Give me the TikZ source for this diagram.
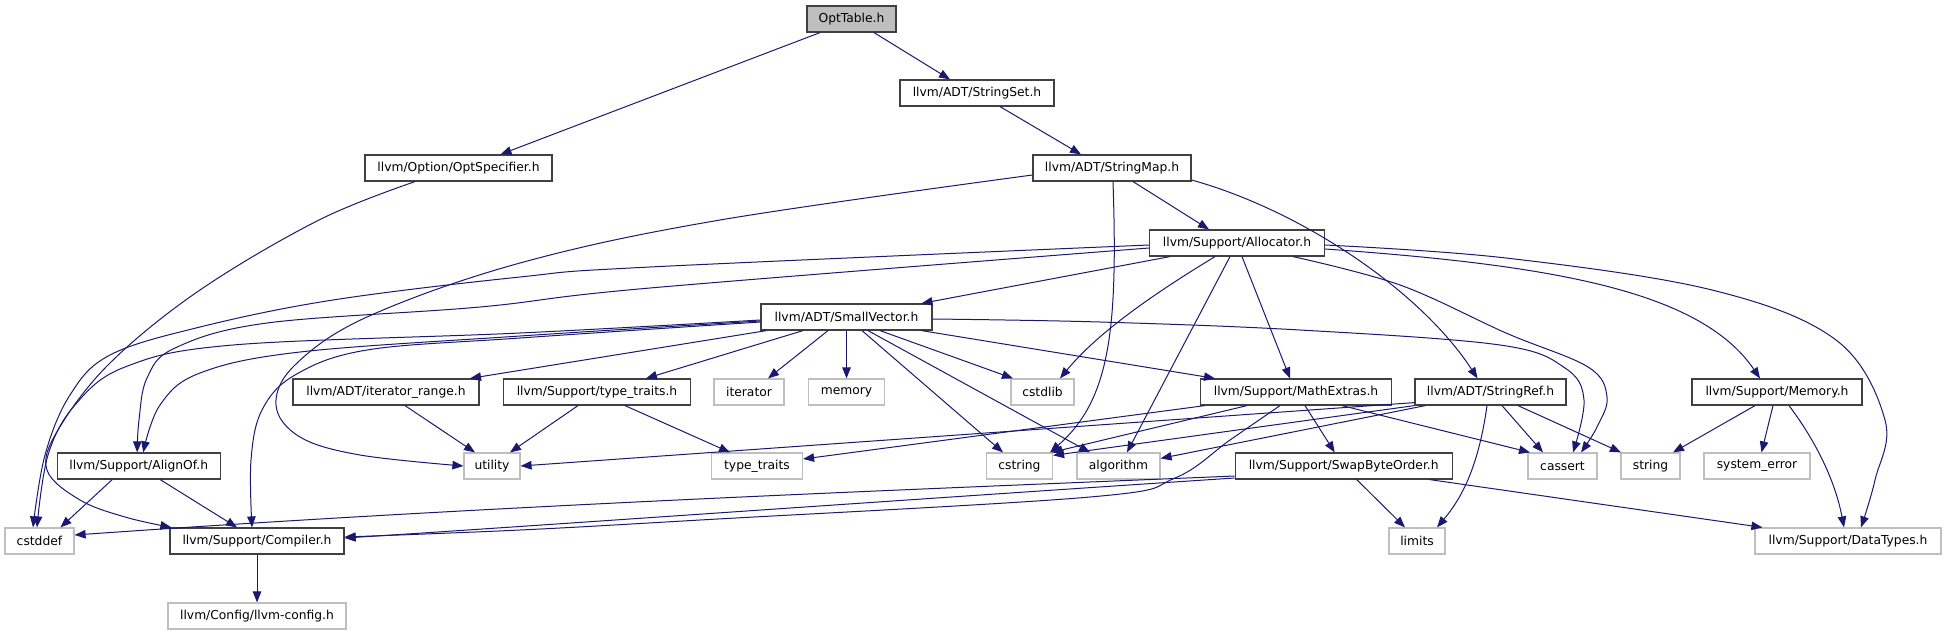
\documentclass[tikz,border=0pt]{standalone}
\usepackage{fontspec}
\setmainfont{DejaVu Sans}
\usetikzlibrary{arrows.meta}
\definecolor{edgec}{HTML}{191970}
\definecolor{lgray}{HTML}{BFBFBF}
\definecolor{bord}{HTML}{404040}
\tikzset{
  hdr/.style={draw=bord, line width=1.2pt, fill=white, minimum height=26pt, inner sep=0pt,
    font=\fontsize{12.3}{14}\selectfont},
  sys/.style={hdr, draw=lgray},
  edge/.style={draw=edgec, line width=1pt, -{Triangle[length=11pt,width=8.5pt]}},
  sm/.style={smooth, tension=0.6}
}
\begin{document}
\begin{tikzpicture}[x=1pt,y=-1pt]
\useasboundingbox (0,0) rectangle (1946,635);
% nodes
\node[hdr, fill=lgray, minimum width=89pt] (opttable) at (851.5,19) {OptTable.h};
\node[hdr, minimum width=187pt] (optspec) at (458.5,168) {llvm/Option/OptSpecifier.h};
\node[hdr, minimum width=154pt] (stringset) at (977,93) {llvm/ADT/StringSet.h};
\node[hdr, minimum width=158pt] (stringmap) at (1112,168) {llvm/ADT/StringMap.h};
\node[hdr, minimum width=175pt] (allocator) at (1237,243) {llvm/Support/Allocator.h};
\node[hdr, minimum width=171pt] (sv) at (846.5,317) {llvm/ADT/SmallVector.h};
\node[hdr, minimum width=186pt] (iterrange) at (386,392) {llvm/ADT/iterator\_range.h};
\node[hdr, minimum width=187pt] (ttsup) at (597,392) {llvm/Support/type\_traits.h};
\node[sys, minimum width=70pt] (iterator) at (749,392) {iterator};
\node[sys, minimum width=76pt] (memory) at (846.5,392) {memory};
\node[sys, minimum width=63pt] (cstdlib) at (1042.5,392) {cstdlib};
\node[hdr, minimum width=191pt] (mathx) at (1296,392) {llvm/Support/MathExtras.h};
\node[hdr, minimum width=151pt] (stringref) at (1490.5,392) {llvm/ADT/StringRef.h};
\node[hdr, minimum width=170pt] (memoryh) at (1777,392) {llvm/Support/Memory.h};
\node[hdr, minimum width=163pt] (alignof) at (138.7,466) {llvm/Support/AlignOf.h};
\node[sys, minimum width=56pt] (utility) at (492,466) {utility};
\node[sys, minimum width=91pt] (tt) at (757,466) {type\_traits};
\node[sys, minimum width=66pt] (cstring) at (1019.5,466) {cstring};
\node[sys, minimum width=83pt] (algorithm) at (1118.5,466) {algorithm};
\node[hdr, minimum width=217pt] (swapbyte) at (1343.7,466) {llvm/Support/SwapByteOrder.h};
\node[sys, minimum width=69pt] (cassert) at (1562.5,466) {cassert};
\node[sys, minimum width=59pt] (string) at (1650.5,466) {string};
\node[sys, minimum width=106pt] (syserror) at (1757,466) {system\_error};
\node[sys, minimum width=69pt] (cstddef) at (39.5,541) {cstddef};
\node[hdr, minimum width=174pt] (compiler) at (257,541) {llvm/Support/Compiler.h};
\node[sys, minimum width=56pt] (limits) at (1417,541) {limits};
\node[sys, minimum width=186pt] (datatypes) at (1848,541) {llvm/Support/DataTypes.h};
\node[sys, minimum width=178pt] (llvmconfig) at (257,616) {llvm/Config/llvm-config.h};
% edges
\draw[edge] ([xshift=-31.5pt]opttable.south) -- ([xshift=42pt]optspec.north);
\draw[edge] ([xshift=22.5pt]opttable.south) -- ([xshift=-27pt]stringset.north);
\draw[edge] ([xshift=23pt]stringset.south) -- ([xshift=-31pt]stringmap.north);
\draw[edge] ([xshift=21pt]stringmap.south) -- ([xshift=-28pt]allocator.north);
\draw[edge] ([xshift=1pt]stringmap.south) .. controls (1118,330) and (1110,400) .. ([xshift=30.5pt]cstring.north);
\draw[edge] plot[sm] coordinates {([yshift=-7pt]stringmap.west) (720,220) (520,263) (367,317) (295,365) (276,405) (300,437) (360,455) (utility.west)};
\draw[edge] ([yshift=-12pt]stringmap.east) .. controls (1300,210) and (1420,290) .. ([xshift=-13pt]stringref.north);
% allocator
\draw[edge] ([xshift=-67pt]allocator.south) -- ([xshift=75pt]sv.north);
\draw[edge] ([xshift=-22pt]allocator.south) .. controls (1160,290) and (1100,330) .. ([xshift=17.5pt]cstdlib.north);
\draw[edge] ([xshift=-7pt]allocator.south) -- ([xshift=8.5pt]algorithm.north);
\draw[edge] ([xshift=5pt]allocator.south) -- ([xshift=-6pt]mathx.north);
\draw[edge] plot[sm] coordinates {([xshift=56pt]allocator.south) (1400,285) (1506,333) (1588,367) (1607,397) (1597,427) ([xshift=18.5pt]cassert.north)};
\draw[edge] ([yshift=-6pt]allocator.east) .. controls (1550,265) and (1700,290) .. ([xshift=-17pt]memoryh.north);
\draw[edge] plot[sm] coordinates {([yshift=-2pt]allocator.east) (1506,258) (1712,290) (1836,340) (1885,420) (1875,480) ([xshift=13pt]datatypes.north)};
\draw[edge] plot[sm] coordinates {([yshift=-2pt]allocator.west) (650,267) (520,277) (333,300) (200,327) (110,355) (70,395) (45,455) ([xshift=-6.5pt]cstddef.north)};
\draw[edge] plot[sm] coordinates {([yshift=-5pt]allocator.west) (650,288) (480,307) (267,323) (175,348) (147,378) (139,420) ([xshift=-1.5pt]alignof.north)};
% smallvector
\draw[edge] ([xshift=-80pt]sv.south) -- ([xshift=84pt]iterrange.north);
\draw[edge] ([xshift=-43.5pt]sv.south) -- ([xshift=49pt]ttsup.north);
\draw[edge] ([xshift=-18.5pt]sv.south) -- ([xshift=19pt]iterator.north);
\draw[edge] (sv.south) -- (memory.north);
\draw[edge] ([xshift=33.5pt]sv.south) -- ([xshift=-29.5pt]cstdlib.north);
\draw[edge] ([xshift=75pt]sv.south) -- ([xshift=-81pt]mathx.north);
\draw[edge] plot[sm] coordinates {([yshift=-2pt]sv.east) (1100,322) (1300,330) (1500,345) (1565,368) (1584,400) ([xshift=10.5pt]cassert.north)};
\draw[edge] ([xshift=15.5pt]sv.south) -- ([xshift=-16.5pt]cstring.north);
\draw[edge] ([xshift=21.5pt]sv.south) -- ([xshift=-28.5pt]algorithm.north);
\draw[edge] plot[sm] coordinates {([yshift=-4pt]sv.west) (520,336) (300,352) (200,373) (160,405) ([xshift=4.5pt]alignof.north)};
\draw[edge] plot[sm] coordinates {([yshift=-3pt]sv.west) (520,333) (233,345) (125,367) (75,405) (48,455) ([xshift=-2.5pt]cstddef.north)};
\draw[edge] plot[sm] coordinates {([yshift=-5pt]sv.west) (520,338) (367,350) (295,375) (262,410) (251,460) ([xshift=-5pt]compiler.north)};
% second row
\draw[edge] ([xshift=19pt]iterrange.south) -- ([xshift=-17pt]utility.north);
\draw[edge] ([xshift=-19pt]ttsup.south) -- ([xshift=18pt]utility.north);
\draw[edge] ([xshift=28pt]ttsup.south) -- ([xshift=-27pt]tt.north);
% mathextras
\draw[edge] ([xshift=5pt]mathx.south west) -- ([yshift=7pt]tt.east);
\draw[edge] ([xshift=-49pt]mathx.south) -- ([xshift=32pt]cstring.north);
\draw[edge] plot[sm] coordinates {([xshift=-16pt]mathx.south) (1230,440) (1175,478) (1090,497) (700,520) (520,530) ([yshift=4pt]compiler.east)};
\draw[edge] ([xshift=9pt]mathx.south) -- ([xshift=-9pt]swapbyte.north);
\draw[edge] ([xshift=46pt]mathx.south) -- ([xshift=-32.5pt]cassert.north);
% stringref
\draw[edge] ([xshift=-3.5pt]stringref.south) .. controls (1478,470) and (1460,500) .. ([xshift=20pt]limits.north);
\draw[edge] ([xshift=11.5pt]stringref.south) -- ([xshift=-19.5pt]cassert.north);
\draw[edge] ([xshift=27.5pt]stringref.south) -- ([xshift=-29.5pt]string.north);
\draw[edge] ([yshift=3pt]stringref.south west) -- (utility.east);
\draw[edge] (stringref.south west) -- ([yshift=-3pt]cstring.north east);
\draw[edge] ([xshift=11pt]stringref.south west) -- ([yshift=-6pt]algorithm.north east);
% swapbyteorder
\draw[edge] ([xshift=13pt]swapbyte.south) -- ([xshift=-12pt]limits.north);
\draw[edge] ([xshift=86pt]swapbyte.south) -- ([xshift=8pt]datatypes.north west);
\draw[edge] ([yshift=-10pt]swapbyte.west) .. controls (900,490) and (500,505) .. ([yshift=6pt]cstddef.east);
\draw[edge] ([yshift=-12pt]swapbyte.west) .. controls (900,500) and (520,527) .. ([yshift=3pt]compiler.east);
% memory
\draw[edge] ([xshift=-22pt]memoryh.south) -- ([xshift=22.5pt]string.north);
\draw[edge] ([xshift=-4pt]memoryh.south) -- ([xshift=4.5pt]syserror.north);
\draw[edge] ([xshift=12pt]memoryh.south) .. controls (1815,440) and (1835,480) .. ([xshift=-4pt]datatypes.north);
% alignof, compiler, optspecifier
\draw[edge] ([xshift=-26.5pt]alignof.south) -- ([xshift=21pt]cstddef.north);
\draw[edge] ([xshift=21.5pt]alignof.south) -- ([xshift=-20pt]compiler.north);
\draw[edge] (compiler.south) -- (llvmconfig.north);
\draw[edge] plot[sm] coordinates {([xshift=-43.5pt]optspec.south) (319,220) (200,290) (110,363) (58,430) (47,470) (80,500) (125,517) ([xshift=2pt]compiler.north west)};
\end{tikzpicture}
\end{document}
